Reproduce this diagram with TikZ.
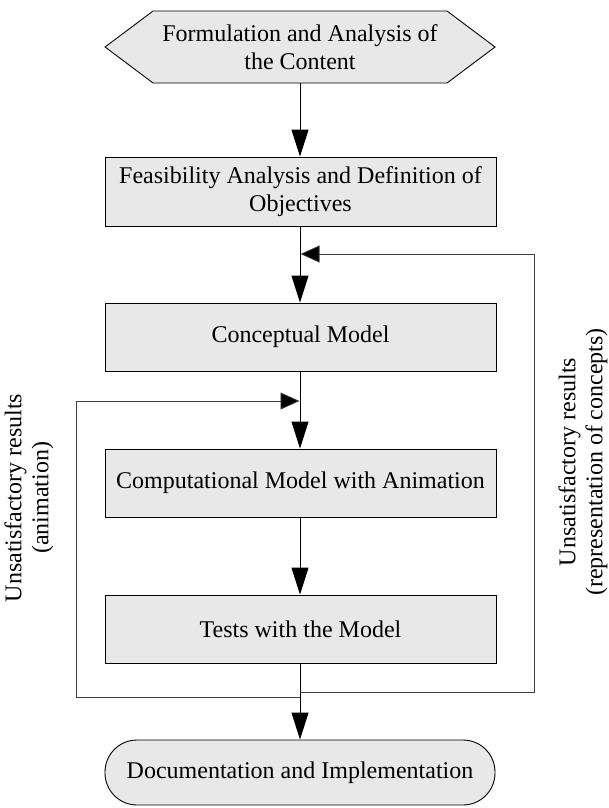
\documentclass[tikz,border=0pt]{standalone}
\usepackage{fontspec}
\setmainfont{Liberation Serif}
\usetikzlibrary{arrows.meta}
\definecolor{boxfill}{HTML}{E8E8E8}
\tikzset{
  stepbox/.style={draw=black, line width=0.9pt, fill=boxfill, minimum width=391pt, minimum height=68pt, inner sep=0pt, align=center, font=\fontsize{24}{28}\selectfont},
  flow/.style={line width=0.9pt, -{Triangle[length=27pt,width=17pt]}},
  loopline/.style={line width=0.8pt, draw=black!75},
  looparrow/.style={loopline, -{Triangle[length=19pt,width=17pt,fill=black]}},
  sidelabel/.style={rotate=90, align=center, font=\fontsize{24}{27}\selectfont},
}
\begin{document}
\begin{tikzpicture}[x=1pt,y=-1pt]
\useasboundingbox (0,0) rectangle (608,808);
% start hexagon
\node[minimum width=390pt, minimum height=72pt, inner sep=0pt] (hex) at (300,47) {};
\filldraw[draw=black, line width=0.9pt, fill=boxfill]
  (105,47) -- (153,11) -- (447,11) -- (495,47) -- (447,83) -- (153,83) -- cycle;
\node[align=center, font=\fontsize{24}{28}\selectfont] (hextext) at (300,47) {Formulation and Analysis of\\the Content};
% boxes
\node[stepbox, minimum height=69pt] (feas) at (300.5,191.5) {Feasibility Analysis and Definition of\\Objectives};
\node[stepbox] (concept) at (300.5,337) {Conceptual Model};
\node[stepbox] (comp) at (300.5,483) {Computational Model with Animation};
\node[stepbox] (tests) at (300.5,629) {Tests with the Model};
\node[stepbox, minimum width=390pt, minimum height=65pt, rounded corners=32pt] (doc) at (300,772.5) {Documentation and Implementation};
% main flow
\draw[flow] (hex.south -| 300,0) -- (feas.north -| 300,0);
\draw[flow] (feas.south -| 300,0) -- (concept.north -| 300,0);
\draw[flow] (concept.south -| 300,0) -- (comp.north -| 300,0);
\draw[flow] (comp.south -| 300,0) -- (tests.north -| 300,0);
\draw[flow] (tests.south -| 300,0) -- (doc.north -| 300,0);
% loop coordinates
\coordinate (rstart) at (300,692);
\coordinate (rc1) at (534,692);
\coordinate (rc2) at (534,254);
\coordinate (rend) at (300.5,254);
\coordinate (lstart) at (300,697);
\coordinate (lc1) at (76,697);
\coordinate (lc2) at (76,401);
\coordinate (lend) at (299.5,401);
\draw[looparrow] (rstart) -- (rc1) -- (rc2) -- (rend);
\draw[looparrow] (lstart) -- (lc1) -- (lc2) -- (lend);
% labels
\node[sidelabel] (llabel) at (29,498) {Unsatisfactory results\\(animation)};
\node[sidelabel] (rlabel) at (583,462) {Unsatisfactory results\\(representation of concepts)};
\end{tikzpicture}
\end{document}
